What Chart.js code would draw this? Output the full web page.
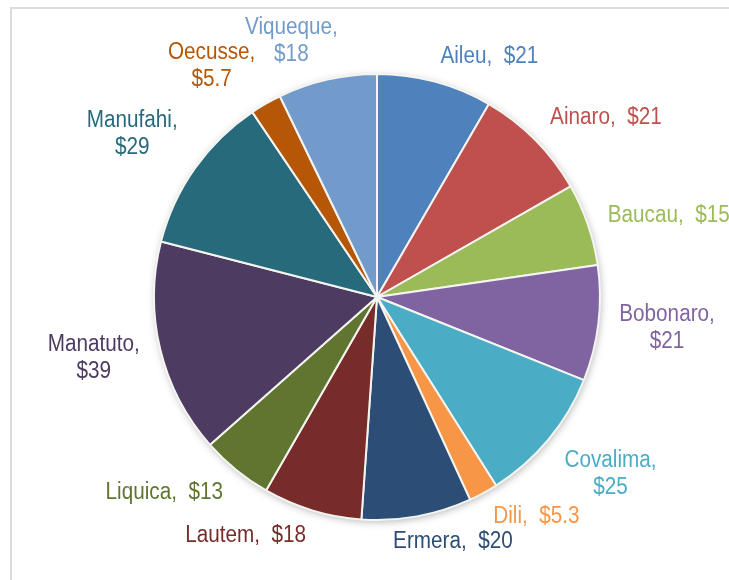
<!DOCTYPE html>
<html>
<head>
<meta charset="utf-8">
<script src="https://cdn.jsdelivr.net/npm/chart.js@4/dist/chart.umd.min.js"></script>
<style>
  html, body { margin: 0; padding: 0; background: #fff; }
  #wrap { position: relative; width: 729px; height: 580px; overflow: hidden; }
  #frame {
    position: absolute; left: 10px; top: 7px; width: 760px; height: 620px;
    border-left: 2px solid #dcdcdc; border-top: 2px solid #dcdcdc;
  }
  canvas { position: absolute; left: 0; top: 0; }
</style>
</head>
<body>
<div id="wrap">
  <div id="frame"></div>
  <canvas id="pie" width="729" height="580"></canvas>
</div>
<script>
var districts = ["Aileu", "Ainaro", "Baucau", "Bobonaro", "Covalima", "Dili", "Ermera",
  "Lautem", "Liquica", "Manatuto", "Manufahi", "Oecusse", "Viqueque"];
var amounts = [21, 21, 15, 21, 25, 5.3, 20, 18, 13, 39, 29, 5.7, 18];
var amountText = ["$21", "$21", "$15", "$21", "$25", "$5.3", "$20", "$18", "$13", "$39", "$29", "$5.7", "$18"];
// labels that wrap onto two lines
var twoLine = [false, false, false, true, true, false, false, false, false, true, true, true, true];

var colors = ["#4F81BD", "#C0504D", "#9BBB59", "#8064A2", "#4BACC6", "#F79646", "#2C4D75",
  "#772C2A", "#5F7530", "#4D3B62", "#276A7C", "#B65708", "#729ACA"];

// no Arial Narrow here, so squeeze Liberation Sans sideways
var FONT = "23px 'Liberation Sans', Arial, sans-serif";
var SQUEEZE = 0.9;

// soft shadow under the whole pie
var pieShadow = {
  id: "pieShadow",
  beforeDatasetsDraw: function (chart) {
    var arc = chart.getDatasetMeta(0).data[0];
    if (!arc) return;
    var ctx = chart.ctx;
    ctx.save();
    ctx.shadowColor = "rgba(0,0,0,0.35)";
    ctx.shadowBlur = 8;
    ctx.shadowOffsetX = 1;
    ctx.shadowOffsetY = 2;
    ctx.fillStyle = "#ffffff";
    ctx.beginPath();
    ctx.arc(arc.x, arc.y, arc.outerRadius - 1, 0, Math.PI * 2);
    ctx.fill();
    ctx.restore();
  }
};

// outside labels, placed around each slice's mid angle
var outsideLabels = {
  id: "outsideLabels",
  afterDatasetsDraw: function (chart) {
    var ctx = chart.ctx;
    var arcs = chart.getDatasetMeta(0).data;
    ctx.save();
    ctx.font = FONT;
    ctx.textBaseline = "middle";
    ctx.textAlign = "center";
    arcs.forEach(function (arc, i) {
      var mid = (arc.startAngle + arc.endAngle) / 2;
      var ax = arc.x + Math.cos(mid) * (arc.outerRadius + 21);
      var ay = arc.y + Math.sin(mid) * (arc.outerRadius + 12);
      var lines = twoLine[i] ? [districts[i] + ",", amountText[i]] : [districts[i] + ",  " + amountText[i]];
      var lh = 27;
      var w = SQUEEZE * Math.max.apply(null, lines.map(function (l) { return ctx.measureText(l).width; }));
      var h = lines.length * lh;
      var s = Math.cos(mid), c = -Math.sin(mid); // s: right(+), c: up(+)
      var left;
      if (Math.abs(s) < 0.25) left = ax - w * Math.min(1, Math.max(0, 0.5 - 1.5 * s));
      else left = s >= 0 ? ax : ax - w;
      var top;
      if (c > 0.5) top = ay - h;
      else if (c < -0.5) top = ay;
      else top = ay - h * (1 + c) / 2;
      ctx.fillStyle = colors[i];
      lines.forEach(function (l, k) {
        ctx.save();
        ctx.translate(left + w / 2, top + lh * k + lh / 2);
        ctx.scale(SQUEEZE, 1);
        ctx.fillText(l, 0, 0);
        ctx.restore();
      });
    });
    ctx.restore();
  }
};

new Chart(document.getElementById("pie"), {
  type: "pie",
  data: {
    labels: districts,
    datasets: [{
      data: amounts,
      backgroundColor: colors,
      borderColor: "#f4f4f0",
      borderWidth: 2
    }]
  },
  options: {
    responsive: false,
    animation: false,
    layout: { padding: { top: 73, bottom: 59, left: 100, right: 75 } },
    plugins: {
      legend: { display: false },
      tooltip: { enabled: false }
    }
  },
  plugins: [pieShadow, outsideLabels]
});
</script>
</body>
</html>
